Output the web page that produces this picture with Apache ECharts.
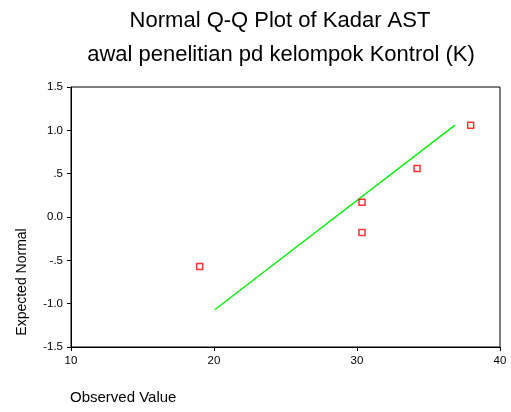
<!DOCTYPE html>
<html>
<head>
<meta charset="utf-8">
<script src="https://cdn.jsdelivr.net/npm/echarts@6/dist/echarts.min.js"></script>
<style>html,body{margin:0;padding:0;background:#fff;}#c{width:511px;height:412px;}</style>
</head>
<body>
<div id="c"></div>
<script>
var titleLines = ['Normal Q-Q Plot of Kadar AST', 'awal penelitian pd kelompok Kontrol (K)'];
var xName = 'Observed Value';
var yName = 'Expected Normal';
var observed = [19.0, 30.35, 30.35, 34.2, 37.95];
var expected = [-0.57, -0.18, 0.17, 0.56, 1.06];
var lineX = [20.05, 36.85];
var lineY = [-1.07, 1.06];
var yTickLabels = {'1.5':'1.5','1':'1.0','0.5':'.5','0':'0.0','-0.5':'-.5','-1':'-1.0','-1.5':'-1.5'};

var font = 'Liberation Sans, Arial, sans-serif';
var chart = echarts.init(document.getElementById('c'), null, {renderer:'canvas'});
chart.setOption({
  animation: false,
  backgroundColor: '#fff',
  grid: {left:71, right:11, top:87, bottom:65, show:true, borderColor:'#000', borderWidth:1, backgroundColor:'transparent'},
  xAxis: {
    type:'value', min:10, max:40, interval:10,
    axisLine:{show:true, onZero:false, lineStyle:{color:'#000', width:1}},
    axisTick:{show:true, inside:false, length:4, lineStyle:{color:'#000'}},
    splitLine:{show:false},
    axisLabel:{color:'#000', fontSize:11.5, fontFamily:font, margin:8}
  },
  yAxis: {
    type:'value', min:-1.5, max:1.5, interval:0.5,
    axisLine:{show:true, onZero:false, lineStyle:{color:'#000', width:1}},
    axisTick:{show:true, inside:false, length:4, lineStyle:{color:'#000'}},
    splitLine:{show:false},
    axisLabel:{color:'#000', fontSize:11.5, fontFamily:font, margin:8,
      formatter:function(v){ var k = String(Math.round(v*10)/10); return yTickLabels[k] !== undefined ? yTickLabels[k] : k; }}
  },
  graphic: [
    {type:'text', x:280, y:21, style:{text:titleLines[0], font:'22px '+font, fill:'#000', align:'center', verticalAlign:'middle'}},
    {type:'text', x:281, y:55, style:{text:titleLines[1], font:'22px '+font, fill:'#000', align:'center', verticalAlign:'middle'}},
    {type:'text', x:70, y:398, style:{text:xName, font:'15px '+font, fill:'#000', align:'left', verticalAlign:'middle'}},
    {type:'text', x:22, y:282, rotation:Math.PI/2, style:{text:yName, font:'14px '+font, fill:'#000', align:'center', verticalAlign:'middle'}}
  ],
  series: [
    {type:'line', data:lineX.map(function(x,i){return [x,lineY[i]];}), showSymbol:false, symbol:'none',
      lineStyle:{color:'#00ee00', width:1.3}, silent:true, z:2},
    {type:'scatter', data:observed.map(function(x,i){return [x,expected[i]];}), symbol:'rect', symbolSize:6,
      itemStyle:{color:'#fff', borderColor:'#ff0000', borderWidth:1.5}, z:3}
  ]
});
</script>
</body>
</html>
